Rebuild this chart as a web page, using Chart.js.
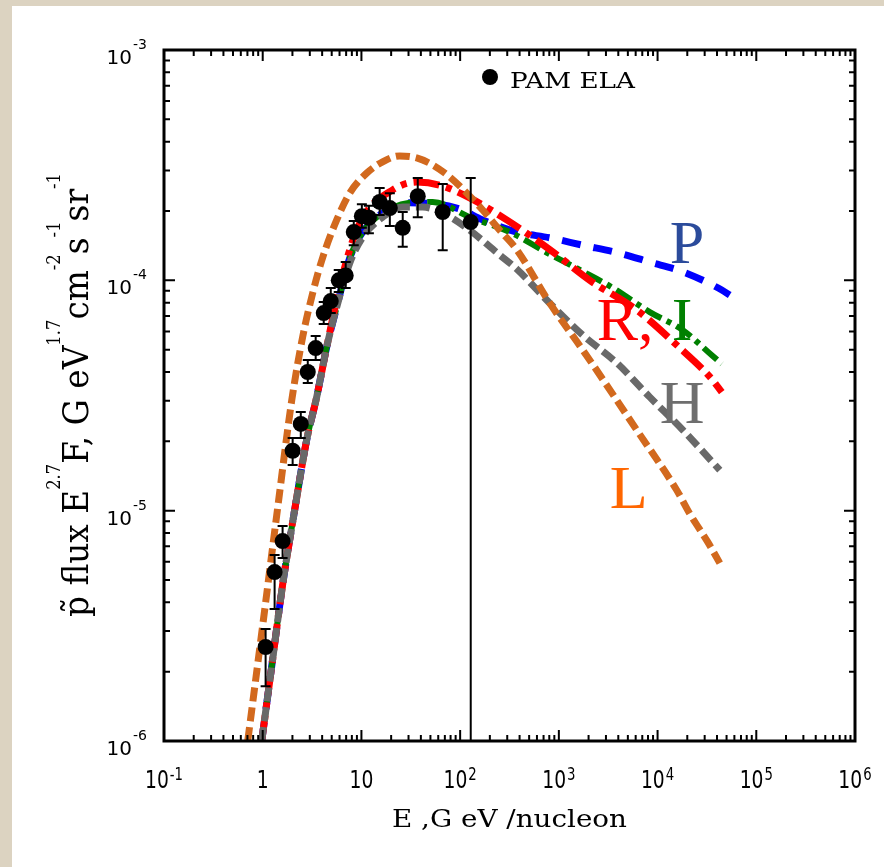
<!DOCTYPE html>
<html>
<head>
<meta charset="utf-8">
<script src="https://cdn.jsdelivr.net/npm/chart.js@4.4.0/dist/chart.umd.min.js"></script>
<style>
  html, body { margin: 0; padding: 0; background: #dcd3c1; }
  #wrap { position: absolute; left: 12px; top: 6px; width: 872px; height: 861px; background: #fff; }
  canvas { display: block; }
</style>
</head>
<body>
<div id="wrap"><canvas id="fluxChart" width="872" height="861"></canvas></div>
<script>
// PAMELA points: energy (GeV/nucleon), E^2.7 F and error bar ends
const ptE  = [1.07, 1.32, 1.59, 2.01, 2.43, 2.86, 3.44, 4.15, 4.89, 5.89, 6.93, 8.36, 10.1, 11.9, 15.3, 19.4, 26.2, 37.2, 66.6, 128];
const ptF  = [2.56e-6, 5.41e-6, 7.38e-6, 1.82e-5, 2.38e-5, 4.0e-5, 5.08e-5, 7.21e-5, 8.13e-5, 1.0e-4, 1.05e-4, 1.62e-4, 1.90e-4, 1.87e-4, 2.19e-4, 2.06e-4, 1.69e-4, 2.32e-4, 1.98e-4, 1.79e-4];
const ptHi = [3.06e-6, 6.42e-6, 8.57e-6, 2.07e-5, 2.68e-5, 4.51e-5, 5.73e-5, 8.05e-5, 9.26e-5, 1.11e-4, 1.20e-4, 1.81e-4, 2.14e-4, 2.11e-4, 2.52e-4, 2.39e-4, 1.98e-4, 2.78e-4, 2.62e-4, 2.78e-4];
const ptLo = [1.73e-6, 3.74e-6, 6.23e-6, 1.58e-5, 2.07e-5, 3.58e-5, 4.51e-5, 6.46e-5, 7.21e-5, 8.9e-5, 9.26e-5, 1.42e-4, 1.69e-4, 1.60e-4, 1.92e-4, 1.72e-4, 1.40e-4, 1.88e-4, 1.35e-4, 1e-7];

// model curves
const pE = [0.977, 1.23, 1.60, 2.11, 2.79, 3.52, 4.45, 5.62, 7.62, 10.3, 16.4, 30.8, 92.5, 169, 374, 809, 1750, 3860, 8340, 18000, 44700, 53800];
const pF = [1.0e-6, 2.09e-6, 4.85e-6, 1.01e-5, 2.03e-5, 3.11e-5, 5.13e-5, 7.66e-5, 1.25e-4, 1.62e-4, 1.96e-4, 2.17e-4, 2.06e-4, 1.83e-4, 1.62e-4, 1.53e-4, 1.42e-4, 1.32e-4, 1.20e-4, 1.09e-4, 9.08e-5, 8.63e-5];

const iE = [0.977, 1.23, 1.60, 2.11, 2.79, 3.52, 4.45, 5.62, 7.62, 10.3, 16.4, 30.8, 52.7, 125, 318, 753, 1630, 3520, 8340, 18000, 36200, 44700];
const iF = [1.0e-6, 2.09e-6, 4.85e-6, 1.01e-5, 2.03e-5, 3.11e-5, 5.13e-5, 7.66e-5, 1.25e-4, 1.62e-4, 1.96e-4, 2.17e-4, 2.19e-4, 1.88e-4, 1.62e-4, 1.32e-4, 1.11e-4, 9.27e-5, 7.28e-5, 6.08e-5, 4.69e-5, 4.34e-5];

const rE = [0.977, 1.23, 1.60, 2.11, 2.79, 3.52, 4.45, 5.62, 7.62, 10.3, 20.7, 36.3, 62.1, 125, 296, 809, 2060, 6150, 15600, 34600, 44700];
const rF = [1.0e-6, 2.09e-6, 4.85e-6, 1.01e-5, 2.03e-5, 3.11e-5, 5.13e-5, 8.20e-5, 1.36e-4, 1.87e-4, 2.47e-4, 2.67e-4, 2.59e-4, 2.28e-4, 1.83e-4, 1.36e-4, 1.0e-4, 7.43e-5, 5.24e-5, 3.77e-5, 3.27e-5];

const hE = [0.977, 1.23, 1.60, 2.11, 2.79, 3.52, 4.45, 5.62, 7.62, 10.3, 16.4, 26.2, 41.8, 66.7, 125, 235, 374, 809, 1750, 3860, 8340, 18000, 42700];
const hF = [1.0e-6, 2.09e-6, 4.85e-6, 1.01e-5, 2.03e-5, 3.11e-5, 5.13e-5, 7.66e-5, 1.19e-4, 1.54e-4, 1.88e-4, 2.08e-4, 2.08e-4, 1.96e-4, 1.65e-4, 1.32e-4, 1.12e-4, 7.96e-5, 5.78e-5, 4.38e-5, 3.11e-5, 2.24e-5, 1.50e-5];

const lE = [0.705, 1.0, 1.41, 1.97, 2.54, 3.21, 4.06, 5.62, 7.60, 11.3, 16.4, 24.4, 36.3, 52.7, 78.5, 117, 169, 252, 374, 809, 1750, 6150, 15600, 21200, 32300, 42700];
const lF = [1.0e-6, 3.18e-6, 1.01e-5, 3.02e-5, 5.68e-5, 8.81e-5, 1.26e-4, 1.83e-4, 2.39e-4, 2.92e-4, 3.27e-4, 3.47e-4, 3.40e-4, 3.17e-4, 2.81e-4, 2.39e-4, 2.02e-4, 1.65e-4, 1.36e-4, 7.96e-5, 4.98e-5, 2.24e-5, 1.23e-5, 9.7e-6, 7.3e-6, 5.92e-6];

// axes
const xMajor = [0.1, 1, 10, 100, 1e3, 1e4, 1e5, 1e6];
const xTickText = [['10', '-1'], ['1', ''], ['10', ''], ['10', '2'], ['10', '3'], ['10', '4'], ['10', '5'], ['10', '6']];
const yMajor = [1e-3, 1e-4, 1e-5, 1e-6];
const yTickText = [['10', '-3'], ['10', '-4'], ['10', '-5'], ['10', '-6']];
const minorSteps = [2, 3, 4, 5, 6, 7, 8, 9];

// curve labels (text, colour, E, F of left baseline)
const curveLabels = [
    ['P', '#2b4b9b', 13300, 1.19e-4],
    ['R,', '#ff0000', 2420, 5.51e-5],
    ['I', '#008000', 13900, 5.51e-5],
    ['H', '#6e6e6e', 10500, 2.40e-5],
    ['L', '#ff6600', 3280, 1.03e-5]
];

function series(E, F) {
    return E.map((e, i) => ({ x: e, y: F[i] }));
}

function curve(E, F, color, width, dash) {
    return {
        data: series(E, F),
        borderColor: color,
        borderWidth: width,
        borderDash: dash,
        borderCapStyle: 'butt',
        pointRadius: 0,
        fill: false,
        cubicInterpolationMode: 'monotone',
        clip: 0
    };
}

// text helpers, pieces = [{t, sup}]
function piecesWidth(ctx, pieces, size, family, supScale) {
    let w = 0;
    pieces.forEach(p => {
        ctx.font = (p.sup ? size * supScale : size) + 'px ' + family;
        w += ctx.measureText(p.t).width;
    });
    return w;
}

function fitText(ctx, pieces, o) {
    const base = 40;
    ctx.save();
    ctx.font = base + 'px ' + o.family;
    const capA = ctx.measureText('E').actualBoundingBoxAscent;
    const w = piecesWidth(ctx, pieces, base, o.family, o.supScale || 0.5);
    const sx = o.length / w;
    const sy = o.cap / capA;
    ctx.translate(o.x, o.y);
    if (o.rotate) ctx.rotate(-Math.PI / 2);
    ctx.scale(sx, sy);
    ctx.fillStyle = o.color || '#000';
    ctx.textAlign = 'left';
    ctx.textBaseline = 'alphabetic';
    let cx = 0;
    pieces.forEach(p => {
        const s = p.sup ? base * (o.supScale || 0.5) : base;
        ctx.font = s + 'px ' + o.family;
        ctx.fillText(p.t, cx, p.sup ? -capA * (o.supRaise || 1) : 0);
        cx += ctx.measureText(p.t).width;
    });
    ctx.restore();
}

// narrow text: draws horizontally squeezed text, returns its width
function narrowText(ctx, t, px, py, size, squeeze, draw) {
    ctx.font = size + "px 'DejaVu Sans', sans-serif";
    const w = ctx.measureText(t).width * squeeze;
    if (draw) {
        ctx.save();
        ctx.translate(px, py);
        ctx.scale(squeeze, 1);
        ctx.fillText(t, 0, 0);
        ctx.restore();
    }
    return w;
}

const framePlugin = {
    id: 'frame',
    beforeDatasetDraw(chart, args) {
        if (args.index !== 0) return;
        const { ctx, chartArea: ca, scales: { x, y } } = chart;
        ctx.save();
        ctx.beginPath();
        ctx.rect(ca.left, ca.top, ca.width, ca.height);
        ctx.clip();
        ctx.strokeStyle = '#000';
        ctx.lineWidth = 2;
        ptE.forEach((e, i) => {
            const px = x.getPixelForValue(e);
            const yh = y.getPixelForValue(ptHi[i]);
            const yl = y.getPixelForValue(ptLo[i]);
            ctx.beginPath();
            ctx.moveTo(px, yh); ctx.lineTo(px, yl);
            ctx.moveTo(px - 5, yh); ctx.lineTo(px + 5, yh);
            ctx.moveTo(px - 5, yl); ctx.lineTo(px + 5, yl);
            ctx.stroke();
        });
        ctx.restore();
    },
    afterDraw(chart) {
        const { ctx, chartArea: ca, scales: { x, y } } = chart;
        ctx.save();

        // curve labels
        ctx.font = "62px 'Liberation Serif', serif";
        ctx.textBaseline = 'alphabetic';
        ctx.textAlign = 'left';
        curveLabels.forEach(([t, c, e, f]) => {
            ctx.fillStyle = c;
            ctx.fillText(t, x.getPixelForValue(e), y.getPixelForValue(f));
        });

        // frame
        ctx.strokeStyle = '#000';
        ctx.lineWidth = 3;
        ctx.strokeRect(ca.left, ca.top, ca.width, ca.height);

        // ticks
        ctx.lineWidth = 2;
        ctx.beginPath();
        const xt = (v, len) => {
            const px = x.getPixelForValue(v);
            ctx.moveTo(px, ca.bottom); ctx.lineTo(px, ca.bottom - len);
            ctx.moveTo(px, ca.top); ctx.lineTo(px, ca.top + len);
        };
        const yt = (v, len) => {
            const py = y.getPixelForValue(v);
            ctx.moveTo(ca.left, py); ctx.lineTo(ca.left + len, py);
            ctx.moveTo(ca.right, py); ctx.lineTo(ca.right - len, py);
        };
        xMajor.forEach((v, i) => {
            xt(v, 11);
            if (i < xMajor.length - 1) minorSteps.forEach(k => xt(v * k, 6));
        });
        yMajor.forEach((v, i) => {
            yt(v, 11);
            if (i > 0) minorSteps.forEach(k => yt(v * k, 6));
        });
        ctx.stroke();

        // tick labels
        ctx.fillStyle = '#000';
        yMajor.forEach((v, i) => {
            const py = y.getPixelForValue(v);
            ctx.font = "20px 'DejaVu Sans', sans-serif";
            ctx.textAlign = 'right';
            ctx.fillText(yTickText[i][0], ca.left - 32, py + 14);
            ctx.font = "14px 'DejaVu Sans', sans-serif";
            ctx.textAlign = 'left';
            ctx.fillText(yTickText[i][1], ca.left - 31, py - 1);
        });
        ctx.textAlign = 'left';
        xMajor.forEach((v, i) => {
            const px = x.getPixelForValue(v);
            const [m, ex] = xTickText[i];
            const wm = narrowText(ctx, m, 0, 0, 24, 0.78, false);
            const we = ex ? narrowText(ctx, ex, 0, 0, 17, 0.78, false) + 1 : 0;
            const left = px - (wm + we) / 2;
            narrowText(ctx, m, left, ca.bottom + 47, 24, 0.78, true);
            if (ex) narrowText(ctx, ex, left + wm + 1, ca.bottom + 39, 17, 0.78, true);
        });

        // axis titles
        const serifFam = "'DejaVu Serif', serif";
        fitText(ctx, [{ t: 'E ,G eV /nucleon' }], {
            x: ca.left + 228, y: ca.bottom + 86, cap: 17, length: 235, family: serifFam
        });
        fitText(ctx, [
            { t: 'p\u0303 flux E' }, { t: '2.7', sup: true }, { t: 'F, G eV' }, { t: '1.7', sup: true },
            { t: 'cm' }, { t: '-2', sup: true }, { t: 's' }, { t: '-1', sup: true },
            { t: 'sr' }, { t: '-1', sup: true }
        ], {
            x: ca.left - 76, y: ca.bottom - 124, rotate: true, cap: 26, length: 444,
            family: serifFam, supScale: 0.5, supRaise: 1.08
        });

        // legend
        ctx.fillStyle = '#000';
        ctx.beginPath();
        ctx.arc(ca.left + 326, ca.top + 27, 8, 0, Math.PI * 2);
        ctx.fill();
        fitText(ctx, [{ t: 'PAM ELA' }], {
            x: ca.left + 346, y: ca.top + 38, cap: 16.5, length: 125, family: serifFam
        });

        ctx.restore();
    }
};

const ctx = document.getElementById('fluxChart').getContext('2d');
new Chart(ctx, {
    type: 'line',
    data: {
        datasets: [
            {
                data: series(ptE, ptF),
                showLine: false,
                pointRadius: 8,
                pointHoverRadius: 8,
                pointBackgroundColor: '#000',
                pointBorderWidth: 0,
                borderColor: '#000'
            },
            curve(lE, lF, '#d2691e', 7, [14, 6]),
            curve(hE, hF, '#696969', 7, [14, 6]),
            curve(rE, rF, '#ff0000', 7, [26, 7, 6, 7]),
            curve(iE, iF, '#008000', 6, [18, 6, 5, 6]),
            curve(pE, pF, '#0000ff', 7, [19, 13])
        ]
    },
    options: {
        responsive: false,
        animation: false,
        devicePixelRatio: 1,
        events: [],
        layout: { padding: { left: 152, top: 44, right: 29, bottom: 126 } },
        scales: {
            x: { type: 'logarithmic', min: 0.1, max: 1e6, display: false },
            y: { type: 'logarithmic', min: 1e-6, max: 1e-3, display: false }
        },
        plugins: {
            legend: { display: false },
            tooltip: { enabled: false }
        }
    },
    plugins: [framePlugin]
});
</script>
</body>
</html>
